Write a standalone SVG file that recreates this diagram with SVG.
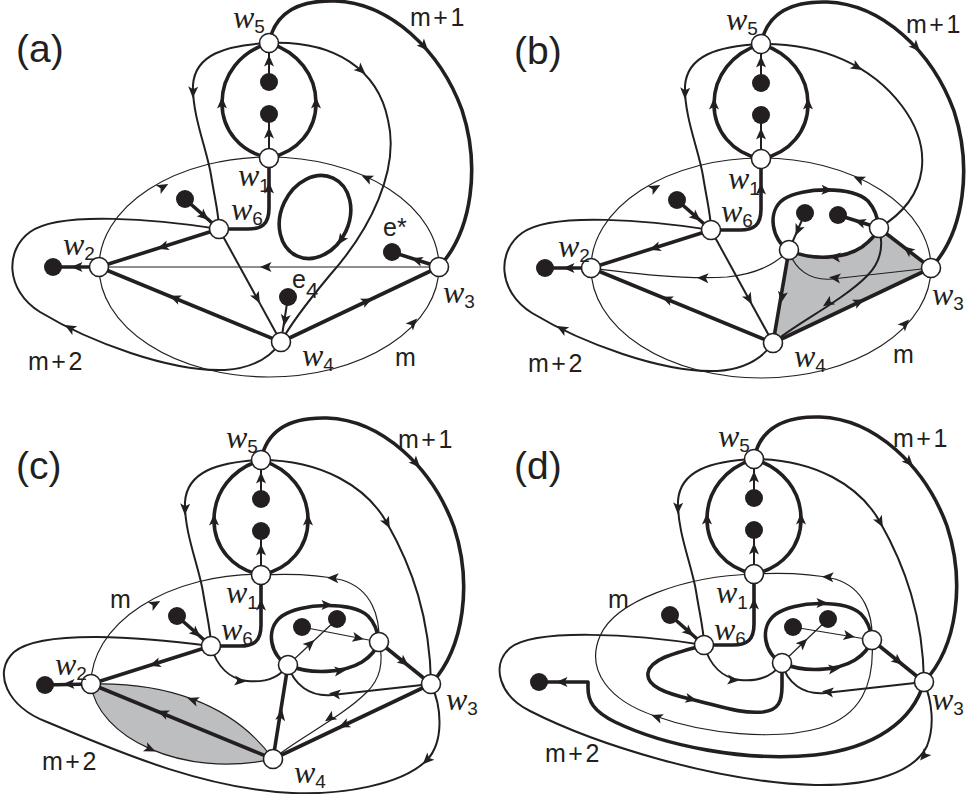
<svg xmlns="http://www.w3.org/2000/svg" xmlns:xlink="http://www.w3.org/1999/xlink" width="966" height="794" viewBox="0 0 966 794">
<style>
.t1{fill:none;stroke:#231f20;stroke-width:1.2}
.t2{fill:none;stroke:#231f20;stroke-width:2}
.t3{fill:none;stroke:#231f20;stroke-width:3.6;stroke-linejoin:round}
.nd{fill:#fff;stroke:#231f20;stroke-width:1.6}
.dt{fill:#231f20}
.gr{fill:#bcbec0;stroke:none}
text{fill:#231f20}
.s{font-family:"Liberation Sans","Open Sans",sans-serif;font-size:25px;letter-spacing:2.5px}
.e{font-family:"Liberation Sans","Open Sans",sans-serif;font-size:25px}
.w{font-family:"Liberation Serif",serif;font-style:italic;font-size:32px}
.sub{font-family:"Liberation Sans",sans-serif;font-style:normal;font-size:19px}
.p{font-family:"Liberation Sans",sans-serif;font-size:39px}
</style>
<defs>
<path id="ah" d="M6,0 L-5.5,-5 L-2.8,0 L-5.5,5 Z" fill="#231f20"/>
</defs>
<rect width="966" height="794" fill="#fff"/>

<!-- ================= PANEL (a) ================= -->
<g id="panel-a">
<g id="a-connectors">
<path class="t3" d="M269,158 C240,152 222,130 222,103 C222,75 240,52 269,43"/>
<path class="t3" d="M269,158 C298,152 316,130 316,103 C316,75 298,52 269,43"/>
<use xlink:href="#ah" transform="translate(222,103) rotate(-90)"/>
<use xlink:href="#ah" transform="translate(316,103) rotate(-90)"/>
<path class="t2" d="M269,82 L269,43 M269,114 L269,158"/>
<use xlink:href="#ah" transform="translate(269,61) rotate(-90)"/>
<use xlink:href="#ah" transform="translate(269,133) rotate(-90)"/>
<path class="t2" d="M269,43 C225,45 195,55 193,85 C192,115 207,150 211,175 C215,200 219,215 219,229"/>
<use xlink:href="#ah" transform="translate(193,92) rotate(92)"/>
<path class="t3" d="M269,43 C275,12 300,0 335,1 C390,3 440,50 462,110 C480,165 473,230 439,267"/>
<use xlink:href="#ah" transform="translate(424,46) rotate(47)"/>
<path class="t3" d="M269,158 L269,208 C269,224 262,229 248,229 L219,229"/>
<use xlink:href="#ah" transform="translate(269,188) rotate(-90)"/>
<path class="t3" d="M185,199 L219,229"/>
<use xlink:href="#ah" transform="translate(204,216) rotate(41)"/>
<ellipse class="t1" cx="269" cy="267" rx="170" ry="110"/>
<use xlink:href="#ah" transform="translate(163,187) rotate(-29)"/>
<use xlink:href="#ah" transform="translate(367,178) rotate(205)"/>
<use xlink:href="#ah" transform="translate(413,323) rotate(-47)"/>
<path class="t2" d="M219,229 C160,220 60,210 30,232 C5,250 5,290 40,312 C90,342 170,372 225,370 C255,368 272,355 281,342"/>
<use xlink:href="#ah" transform="translate(70,328) rotate(209)"/>
<path class="t3" d="M219,229 L99,267"/>
<use xlink:href="#ah" transform="translate(163,247) rotate(162)"/>
<path class="t3" d="M281,342 L99,267"/>
<use xlink:href="#ah" transform="translate(175,298) rotate(202)"/>
<path class="t1" d="M439,267 L99,267"/>
<use xlink:href="#ah" transform="translate(266,267) rotate(180)"/>
<path class="t3" d="M99,267 L53,267"/>
<use xlink:href="#ah" transform="translate(77,267) rotate(180)"/>
<path class="t2" d="M219,229 L281,342"/>
<use xlink:href="#ah" transform="translate(257,298) rotate(61)"/>
<path class="t3" d="M281,342 L439,267"/>
<use xlink:href="#ah" transform="translate(367,301) rotate(-25)"/>
<path class="t3" d="M439,267 L392,252"/>
<use xlink:href="#ah" transform="translate(417,260) rotate(198)"/>
<path class="t2" d="M288,297 L281,342"/>
<use xlink:href="#ah" transform="translate(285,320) rotate(98)"/>
<path class="t2" d="M269,43 C335,40 378,70 388,120 C400,170 370,230 330,275 C305,305 290,325 281,342"/>
<use xlink:href="#ah" transform="translate(361,70) rotate(42)"/>
<ellipse class="t3" cx="315" cy="217" rx="34" ry="43" transform="rotate(25 315 217)"/>
<use xlink:href="#ah" transform="translate(341,240) rotate(125)"/>
</g>
<g id="a-w5"><circle class="nd" cx="269" cy="43" r="9.5"/><text class="w" x="233" y="28">w<tspan class="sub" dy="5">5</tspan></text></g>
<g id="a-w1"><circle class="nd" cx="269" cy="158" r="9.5"/><text class="w" x="238" y="186">w<tspan class="sub" dy="6">1</tspan></text></g>
<g id="a-w6"><circle class="nd" cx="219" cy="229" r="9.5"/><text class="w" x="231" y="220">w<tspan class="sub" dy="5">6</tspan></text></g>
<g id="a-w2"><circle class="nd" cx="99" cy="267" r="9.5"/><text class="w" x="63" y="255">w<tspan class="sub" dy="5">2</tspan></text></g>
<g id="a-w3"><circle class="nd" cx="439" cy="267" r="9.5"/><text class="w" x="443" y="303">w<tspan class="sub" dy="5">3</tspan></text></g>
<g id="a-w4"><circle class="nd" cx="281" cy="342" r="9.5"/><text class="w" x="302" y="366">w<tspan class="sub" dy="5">4</tspan></text></g>
<g id="a-dots">
<circle class="dt" cx="269" cy="82" r="9"/><circle class="dt" cx="269" cy="114" r="9"/>
<circle class="dt" cx="185" cy="199" r="9"/><circle class="dt" cx="53" cy="267" r="9"/>
</g>
<g id="a-estar"><circle class="dt" cx="392" cy="252" r="9"/><text class="e" x="383" y="236">e*</text></g>
<g id="a-e4"><circle class="dt" cx="288" cy="297" r="9"/><text class="e" x="292" y="288">e<tspan dy="10" style="font-size:22px">4</tspan></text></g>
<text class="s" x="410" y="26">m+1</text>
<text class="s" x="395" y="366">m</text>
<text class="s" x="28" y="370">m+2</text>
<text class="p" x="16" y="62">(a)</text>
</g>

<!-- ================= PANEL (b) ================= -->
<g id="panel-b" transform="translate(492,1)">
<g id="b-connectors">
<path class="gr" d="M297,249 C320,260 352,258 370,246 C378,240 384,234 387,227 L439,267 L281,342 Z"/>
<path class="t3" d="M269,158 C240,152 222,130 222,103 C222,75 240,52 269,43"/>
<path class="t3" d="M269,158 C298,152 316,130 316,103 C316,75 298,52 269,43"/>
<use xlink:href="#ah" transform="translate(222,103) rotate(-90)"/>
<use xlink:href="#ah" transform="translate(316,103) rotate(-90)"/>
<path class="t2" d="M269,82 L269,43 M269,114 L269,158"/>
<use xlink:href="#ah" transform="translate(269,61) rotate(-90)"/>
<use xlink:href="#ah" transform="translate(269,133) rotate(-90)"/>
<path class="t2" d="M269,43 C225,45 195,55 193,85 C192,115 207,150 211,175 C215,200 219,215 219,229"/>
<use xlink:href="#ah" transform="translate(193,92) rotate(92)"/>
<path class="t3" d="M269,43 C275,12 300,0 335,1 C390,3 440,50 462,110 C480,165 473,230 439,267"/>
<use xlink:href="#ah" transform="translate(424,46) rotate(47)"/>
<path class="t3" d="M269,158 L269,208 C269,224 262,229 248,229 L219,229"/>
<use xlink:href="#ah" transform="translate(269,188) rotate(-90)"/>
<path class="t3" d="M185,199 L219,229"/>
<use xlink:href="#ah" transform="translate(204,216) rotate(41)"/>
<ellipse class="t1" cx="269" cy="267" rx="170" ry="110"/>
<use xlink:href="#ah" transform="translate(163,187) rotate(-29)"/>
<use xlink:href="#ah" transform="translate(367,178) rotate(205)"/>
<use xlink:href="#ah" transform="translate(413,323) rotate(-47)"/>
<path class="t2" d="M219,229 C160,220 60,210 30,232 C5,250 5,290 40,312 C90,342 170,372 225,370 C255,368 272,355 281,342"/>
<use xlink:href="#ah" transform="translate(70,328) rotate(209)"/>
<path class="t3" d="M219,229 L99,267"/>
<use xlink:href="#ah" transform="translate(163,247) rotate(162)"/>
<path class="t3" d="M281,342 L99,267"/>
<use xlink:href="#ah" transform="translate(175,298) rotate(202)"/>
<path class="t3" d="M99,267 L53,267"/>
<use xlink:href="#ah" transform="translate(77,267) rotate(180)"/>
<path class="t2" d="M219,229 L281,342"/>
<use xlink:href="#ah" transform="translate(257,298) rotate(61)"/>
<path class="t3" d="M281,342 L439,267"/>
<use xlink:href="#ah" transform="translate(367,301) rotate(-25)"/>
<path class="t2" d="M269,43 C330,42 380,65 410,105 C440,145 440,195 387,227"/>
<use xlink:href="#ah" transform="translate(365,66) rotate(30)"/>
<path class="t2" d="M387,227 C392,245 388,262 375,275 C350,300 305,322 281,342"/>
<use xlink:href="#ah" transform="translate(336,302) rotate(147)"/>
<path class="t3" d="M297,249 C280,240 274,210 292,198 C310,186 360,185 376,200 C383,208 386,218 387,227"/>
<use xlink:href="#ah" transform="translate(335,189) rotate(2)"/>
<path class="t3" d="M297,249 C320,260 352,258 370,246 C378,240 384,234 387,227"/>
<use xlink:href="#ah" transform="translate(343,256) rotate(186)"/>
<path class="t2" d="M313,212 L297,249"/>
<use xlink:href="#ah" transform="translate(306,229) rotate(113)"/>
<path class="t3" d="M387,227 L346,214"/>
<use xlink:href="#ah" transform="translate(368,221) rotate(198)"/>
<path class="t3" d="M297,249 L281,342"/>
<use xlink:href="#ah" transform="translate(290,296) rotate(100)"/>
<path class="t3" d="M439,267 L387,227"/>
<use xlink:href="#ah" transform="translate(416,249) rotate(218)"/>
<path class="t1" d="M297,249 C285,262 265,273 235,276 C190,279 130,271 99,267"/>
<use xlink:href="#ah" transform="translate(211,277) rotate(182)"/>
<path class="t1" d="M439,267 L340,278 C318,280 302,268 297,249"/>
<use xlink:href="#ah" transform="translate(343,277) rotate(186)"/>
</g>
<g id="b-w5"><circle class="nd" cx="269" cy="43" r="9.5"/><text class="w" x="234" y="29">w<tspan class="sub" dy="5">5</tspan></text></g>
<g id="b-w1"><circle class="nd" cx="269" cy="158" r="9.5"/><text class="w" x="236" y="188">w<tspan class="sub" dy="6">1</tspan></text></g>
<g id="b-w6"><circle class="nd" cx="219" cy="229" r="9.5"/><text class="w" x="229" y="221">w<tspan class="sub" dy="5">6</tspan></text></g>
<g id="b-w2"><circle class="nd" cx="99" cy="267" r="9.5"/><text class="w" x="66" y="256">w<tspan class="sub" dy="5">2</tspan></text></g>
<g id="b-w3"><circle class="nd" cx="439" cy="267" r="9.5"/><text class="w" x="440" y="304">w<tspan class="sub" dy="5">3</tspan></text></g>
<g id="b-w4"><circle class="nd" cx="281" cy="342" r="9.5"/><text class="w" x="302" y="366">w<tspan class="sub" dy="5">4</tspan></text></g>
<g id="b-na"><circle class="nd" cx="297" cy="249" r="9.5"/></g>
<g id="b-nb"><circle class="nd" cx="387" cy="227" r="9.5"/></g>
<g id="b-dots">
<circle class="dt" cx="269" cy="82" r="9"/><circle class="dt" cx="269" cy="114" r="9"/>
<circle class="dt" cx="185" cy="199" r="9"/><circle class="dt" cx="53" cy="267" r="9"/>
<circle class="dt" cx="313" cy="212" r="9"/><circle class="dt" cx="346" cy="214" r="9"/>
</g>
<text class="s" x="414" y="32">m+1</text>
<text class="s" x="401" y="362">m</text>
<text class="s" x="36" y="371">m+2</text>
<text class="p" x="22" y="63">(b)</text>
</g>

<!-- ================= PANEL (c) ================= -->
<g id="panel-c" transform="translate(-8,417)">
<g id="c-connectors">
<path class="gr" d="M99,267 C170,265 240,285 281,342 C190,362 105,320 99,267 Z"/>
<path class="t3" d="M269,158 C240,152 222,130 222,103 C222,75 240,52 269,43"/>
<path class="t3" d="M269,158 C298,152 316,130 316,103 C316,75 298,52 269,43"/>
<use xlink:href="#ah" transform="translate(222,103) rotate(-90)"/>
<use xlink:href="#ah" transform="translate(316,103) rotate(-90)"/>
<path class="t2" d="M269,82 L269,43 M269,114 L269,158"/>
<use xlink:href="#ah" transform="translate(269,61) rotate(-90)"/>
<use xlink:href="#ah" transform="translate(269,133) rotate(-90)"/>
<path class="t2" d="M269,43 C225,45 195,55 193,85 C192,115 207,150 211,175 C215,200 219,215 219,229"/>
<use xlink:href="#ah" transform="translate(193,92) rotate(92)"/>
<path class="t3" d="M269,43 C275,12 300,0 335,1 C390,3 440,50 462,110 C480,165 473,230 439,267"/>
<use xlink:href="#ah" transform="translate(424,46) rotate(47)"/>
<path class="t3" d="M269,158 L269,208 C269,224 262,229 248,229 L219,229"/>
<use xlink:href="#ah" transform="translate(269,188) rotate(-90)"/>
<path class="t3" d="M185,199 L219,229"/>
<use xlink:href="#ah" transform="translate(204,216) rotate(41)"/>
<path class="t2" d="M269,43 C330,43 375,70 395,106 C420,150 438,200 439,267"/>
<use xlink:href="#ah" transform="translate(395,106) rotate(62)"/>
<path class="t2" d="M219,229 C150,220 50,212 22,235 C0,255 15,290 55,305 C120,332 210,372 300,376 C350,378 410,368 435,343 C452,325 450,290 439,267"/>
<use xlink:href="#ah" transform="translate(435,343) rotate(135)"/>
<path class="t1" d="M99,267 C170,265 240,285 281,342"/>
<use xlink:href="#ah" transform="translate(201,283) rotate(200)"/>
<path class="t1" d="M99,267 C105,320 190,362 281,342"/>
<use xlink:href="#ah" transform="translate(158,332) rotate(24)"/>
<path class="t3" d="M281,342 L99,267"/>
<use xlink:href="#ah" transform="translate(171,296) rotate(202)"/>
<path class="t3" d="M219,229 L99,267"/>
<use xlink:href="#ah" transform="translate(163,247) rotate(162)"/>
<path class="t3" d="M99,267 L53,268"/>
<use xlink:href="#ah" transform="translate(77,267) rotate(180)"/>
<path class="t1" d="M99,267 A170,110 0 0 1 269,157"/>
<use xlink:href="#ah" transform="translate(163,187) rotate(-29)"/>
<path class="t1" d="M387,225 C388,200 380,172 350,163 C320,156 290,157 269,158"/>
<use xlink:href="#ah" transform="translate(341,161) rotate(183)"/>
<path class="t1" d="M387,225 C392,245 388,262 375,275 C350,300 305,322 281,342"/>
<use xlink:href="#ah" transform="translate(338,301) rotate(147)"/>
<path class="t3" d="M296,248 C279,240 272,212 290,199 C308,186 360,184 376,199 C383,206 386,216 387,225"/>
<use xlink:href="#ah" transform="translate(335,188) rotate(0)"/>
<path class="t3" d="M296,248 C318,258 352,256 370,245 C378,240 384,233 387,225"/>
<use xlink:href="#ah" transform="translate(348,254) rotate(-6)"/>
<path class="t1" d="M310,210 L387,225"/>
<use xlink:href="#ah" transform="translate(366,221) rotate(11)"/>
<path class="t1" d="M296,248 L345,202"/>
<use xlink:href="#ah" transform="translate(318,227) rotate(-43)"/>
<path class="t3" d="M387,225 L439,267"/>
<use xlink:href="#ah" transform="translate(412,245) rotate(39)"/>
<path class="t2" d="M439,267 L340,278 C318,280 302,268 296,248"/>
<use xlink:href="#ah" transform="translate(343,277) rotate(186)"/>
<path class="t3" d="M281,342 L296,248"/>
<use xlink:href="#ah" transform="translate(289,298) rotate(-81)"/>
<path class="t3" d="M439,267 L281,342"/>
<use xlink:href="#ah" transform="translate(352,308) rotate(155)"/>
<path class="t2" d="M219,229 C225,250 238,262 255,264 C275,266 288,260 296,248"/>
<use xlink:href="#ah" transform="translate(248,264) rotate(5)"/>
</g>
<g id="c-w5"><circle class="nd" cx="269" cy="43" r="9.5"/><text class="w" x="234" y="31">w<tspan class="sub" dy="5">5</tspan></text></g>
<g id="c-w1"><circle class="nd" cx="269" cy="158" r="9.5"/><text class="w" x="234" y="186">w<tspan class="sub" dy="6">1</tspan></text></g>
<g id="c-w6"><circle class="nd" cx="219" cy="229" r="9.5"/><text class="w" x="229" y="223">w<tspan class="sub" dy="5">6</tspan></text></g>
<g id="c-w2"><circle class="nd" cx="99" cy="267" r="9.5"/><text class="w" x="63" y="258">w<tspan class="sub" dy="5">2</tspan></text></g>
<g id="c-w3"><circle class="nd" cx="439" cy="267" r="9.5"/><text class="w" x="454" y="293">w<tspan class="sub" dy="5">3</tspan></text></g>
<g id="c-w4"><circle class="nd" cx="281" cy="342" r="9.5"/><text class="w" x="302" y="366">w<tspan class="sub" dy="5">4</tspan></text></g>
<g id="c-na"><circle class="nd" cx="296" cy="248" r="9.5"/></g>
<g id="c-nb"><circle class="nd" cx="387" cy="225" r="9.5"/></g>
<g id="c-dots">
<circle class="dt" cx="269" cy="82" r="9"/><circle class="dt" cx="269" cy="114" r="9"/>
<circle class="dt" cx="185" cy="199" r="9"/><circle class="dt" cx="53" cy="268" r="9"/>
<circle class="dt" cx="310" cy="210" r="9"/><circle class="dt" cx="345" cy="202" r="9"/>
</g>
<text class="s" x="406" y="31">m+1</text>
<text class="s" x="118" y="191">m</text>
<text class="s" x="50" y="353">m+2</text>
<text class="p" x="24" y="62">(c)</text>
</g>

<!-- ================= PANEL (d) ================= -->
<g id="panel-d" transform="translate(485,416)">
<g id="d-connectors">
<path class="t3" d="M269,158 C240,152 222,130 222,103 C222,75 240,52 269,43"/>
<path class="t3" d="M269,158 C298,152 316,130 316,103 C316,75 298,52 269,43"/>
<use xlink:href="#ah" transform="translate(222,103) rotate(-90)"/>
<use xlink:href="#ah" transform="translate(316,103) rotate(-90)"/>
<path class="t2" d="M269,82 L269,43 M269,114 L269,158"/>
<use xlink:href="#ah" transform="translate(269,61) rotate(-90)"/>
<use xlink:href="#ah" transform="translate(269,133) rotate(-90)"/>
<path class="t2" d="M269,43 C225,45 195,55 193,85 C192,115 207,150 211,175 C215,200 219,215 219,229"/>
<use xlink:href="#ah" transform="translate(193,92) rotate(92)"/>
<path class="t3" d="M269,43 C275,12 300,0 335,1 C390,3 440,50 462,110 C480,165 473,230 439,266"/>
<use xlink:href="#ah" transform="translate(424,46) rotate(47)"/>
<path class="t3" d="M269,158 L269,208 C269,224 262,229 248,229 L219,229"/>
<use xlink:href="#ah" transform="translate(269,188) rotate(-90)"/>
<path class="t3" d="M185,199 L219,229"/>
<use xlink:href="#ah" transform="translate(204,216) rotate(41)"/>
<path class="t2" d="M269,43 C330,43 375,70 395,106 C420,150 438,200 439,266"/>
<use xlink:href="#ah" transform="translate(395,106) rotate(62)"/>
<path class="t2" d="M219,229 C150,218 50,212 25,232 C5,250 15,280 45,295 C110,328 230,366 330,369 C390,370 430,355 442,330 C450,310 447,285 439,266"/>
<use xlink:href="#ah" transform="translate(439,340) rotate(130)"/>
<path class="t1" d="M269,158 C200,160 130,185 115,220 C100,255 125,285 170,300 C220,318 290,325 335,312 C375,300 390,270 387,224"/>
<use xlink:href="#ah" transform="translate(172,301) rotate(200)"/>
<path class="t1" d="M387,224 C388,200 380,172 350,163 C320,156 290,157 269,158"/>
<use xlink:href="#ah" transform="translate(343,161) rotate(183)"/>
<path class="t3" d="M439,266 C428,305 390,332 330,339 C260,346 180,330 130,306 C108,295 103,285 103,272 L103,266 L54,266"/>
<use xlink:href="#ah" transform="translate(77,266) rotate(180)"/>
<path class="t3" d="M219,229 C190,237 165,243 163,257 C161,270 180,277 205,283 C235,290 255,298 278,296 C294,294 297,285 297,270 L297,247"/>
<use xlink:href="#ah" transform="translate(206,283) rotate(12)"/>
<path class="t2" d="M219,229 C225,250 238,262 255,264 C275,266 288,260 297,247"/>
<use xlink:href="#ah" transform="translate(248,264) rotate(5)"/>
<path class="t3" d="M297,247 C280,239 273,211 291,198 C309,185 360,183 376,198 C383,205 386,215 387,224"/>
<use xlink:href="#ah" transform="translate(337,187) rotate(0)"/>
<path class="t3" d="M297,247 C319,257 352,255 370,244 C378,239 384,232 387,224"/>
<use xlink:href="#ah" transform="translate(349,253) rotate(-6)"/>
<path class="t1" d="M308,211 L387,224"/>
<use xlink:href="#ah" transform="translate(364,220) rotate(10)"/>
<path class="t1" d="M297,247 L343,203"/>
<use xlink:href="#ah" transform="translate(318,227) rotate(-44)"/>
<path class="t3" d="M387,224 L439,266"/>
<use xlink:href="#ah" transform="translate(413,245) rotate(39)"/>
<path class="t2" d="M439,266 L340,277 C318,279 302,267 297,247"/>
<use xlink:href="#ah" transform="translate(343,276) rotate(186)"/>
</g>
<g id="d-w5"><circle class="nd" cx="269" cy="43" r="9.5"/><text class="w" x="233" y="31">w<tspan class="sub" dy="5">5</tspan></text></g>
<g id="d-w1"><circle class="nd" cx="269" cy="158" r="9.5"/><text class="w" x="231" y="187">w<tspan class="sub" dy="6">1</tspan></text></g>
<g id="d-w6"><circle class="nd" cx="219" cy="229" r="9.5"/><text class="w" x="229" y="224">w<tspan class="sub" dy="5">6</tspan></text></g>
<g id="d-w3"><circle class="nd" cx="439" cy="266" r="9.5"/><text class="w" x="447" y="294">w<tspan class="sub" dy="5">3</tspan></text></g>
<g id="d-na"><circle class="nd" cx="297" cy="247" r="9.5"/></g>
<g id="d-nb"><circle class="nd" cx="387" cy="224" r="9.5"/></g>
<g id="d-dots">
<circle class="dt" cx="269" cy="82" r="9"/><circle class="dt" cx="269" cy="114" r="9"/>
<circle class="dt" cx="185" cy="199" r="9"/><circle class="dt" cx="54" cy="266" r="9"/>
<circle class="dt" cx="308" cy="211" r="9"/><circle class="dt" cx="343" cy="203" r="9"/>
</g>
<text class="s" x="408" y="31">m+1</text>
<text class="s" x="123" y="192">m</text>
<text class="s" x="60" y="346">m+2</text>
<text class="p" x="29" y="63">(d)</text>
</g>
</svg>
